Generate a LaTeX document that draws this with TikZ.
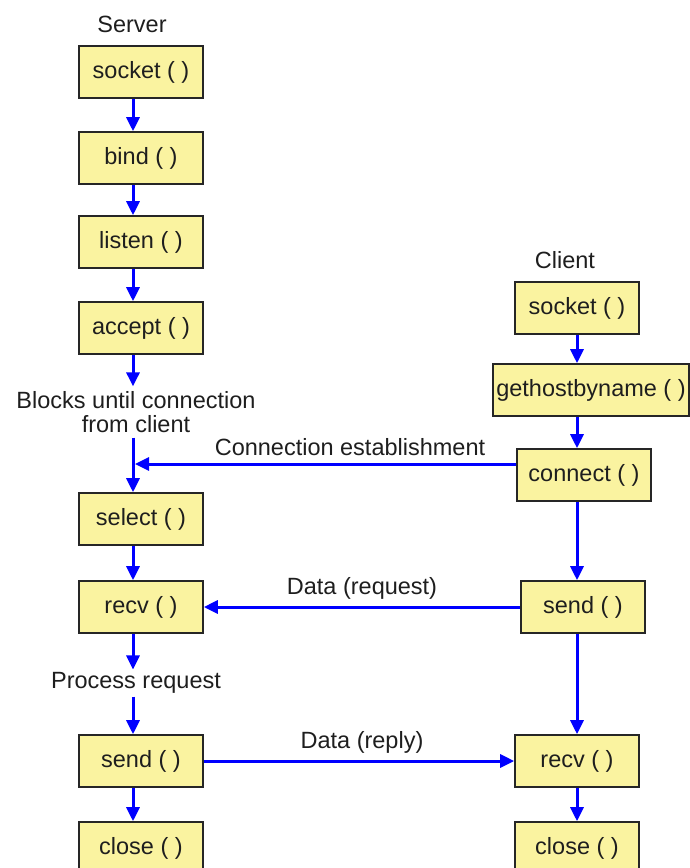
\documentclass[tikz,border=0pt]{standalone}
\usepackage{fontspec}
\setmainfont{Liberation Sans}
\usetikzlibrary{arrows.meta}

\definecolor{callfill}{RGB}{250,243,160}
\definecolor{calltext}{RGB}{30,30,30}

\tikzset{
  call/.style={draw=black!85, line width=1.6pt, fill=callfill, text=calltext,
    minimum width=124pt, minimum height=52pt, inner sep=0pt},
  flow/.style={draw=blue, line width=3pt, -{Triangle[width=13pt,length=14pt]}},
  note/.style={text=calltext, inner sep=0pt, align=center}
}

\begin{document}
\begin{tikzpicture}[x=1pt,y=-1pt,font=\fontsize{23.5}{24}\selectfont]
     \useasboundingbox (0,0) rectangle (689,868);
     \coordinate (sx) at (133,0);
     \coordinate (cx) at (577,0);
     % server side
     \node[note] (server) at (132,24) {Server};
     \node[call] (ssocket) at (141,72) {socket ( )};
     \node[call] (sbind) at (141,158) {bind ( )};
     \node[call] (slisten) at (141,242) {listen ( )};
     \node[call] (saccept) at (141,328) {accept ( )};
     \node[note,outer ysep=5pt] (blocks) at (136,412) {Blocks until connection\\from client};
     \node[call] (sselect) at (141,519) {select ( )};
     \node[call] (srecv) at (141,607) {recv ( )};
     \node[note,outer ysep=3pt] (process) at (136,683) {Process request};
     \node[call] (ssend) at (141,761) {send ( )};
     \node[call] (sclose) at (141,848) {close ( )};
     \draw[flow] (ssocket.south -| sx) -- (sbind.north -| sx);
     \draw[flow] (sbind.south -| sx) -- (slisten.north -| sx);
     \draw[flow] (slisten.south -| sx) -- (saccept.north -| sx);
     \draw[flow] (saccept.south -| sx) -- (blocks.north -| sx);
     \draw[flow] (blocks.south -| sx) -- (sselect.north -| sx);
     \draw[flow] (sselect.south -| sx) -- (srecv.north -| sx);
     \draw[flow] (srecv.south -| sx) -- (process.north -| sx);
     \draw[flow] (process.south -| sx) -- (ssend.north -| sx);
     \draw[flow] (ssend.south -| sx) -- (sclose.north -| sx);
     % client side
     \node[note] (client) at (565,260) {Client};
     \node[call] (csocket) at (577,308) {socket ( )};
     \node[call,minimum width=196pt] (chost) at (591,390) {gethostbyname ( )};
     \node[call,minimum width=134pt] (cconnect) at (584,475) {connect ( )};
     \node[call] (csend) at (583,607) {send ( )};
     \node[call] (crecv) at (577,761) {recv ( )};
     \node[call] (cclose) at (577,848) {close ( )};
     \draw[flow] (csocket.south -| cx) -- (chost.north -| cx);
     \draw[flow] (chost.south -| cx) -- (cconnect.north -| cx);
     \draw[flow] (cconnect.south -| cx) -- (csend.north -| cx);
     \draw[flow] (csend.south -| cx) -- (crecv.north -| cx);
     \draw[flow] (crecv.south -| cx) -- (cclose.north -| cx);
     % between the two
     \coordinate (join) at (135,464);
     \draw[flow] (join -| cconnect.west) -- (join);
     \node[note] (conn) at (350,447) {Connection establishment};
     \draw[flow] (csend.west) -- (srecv.east);
     \node[note] (request) at (362,588) {Data (request)};
     \draw[flow] (ssend.east) -- (crecv.west);
     \node[note] (reply) at (362,742) {Data (reply)};
\end{tikzpicture}
\end{document}
